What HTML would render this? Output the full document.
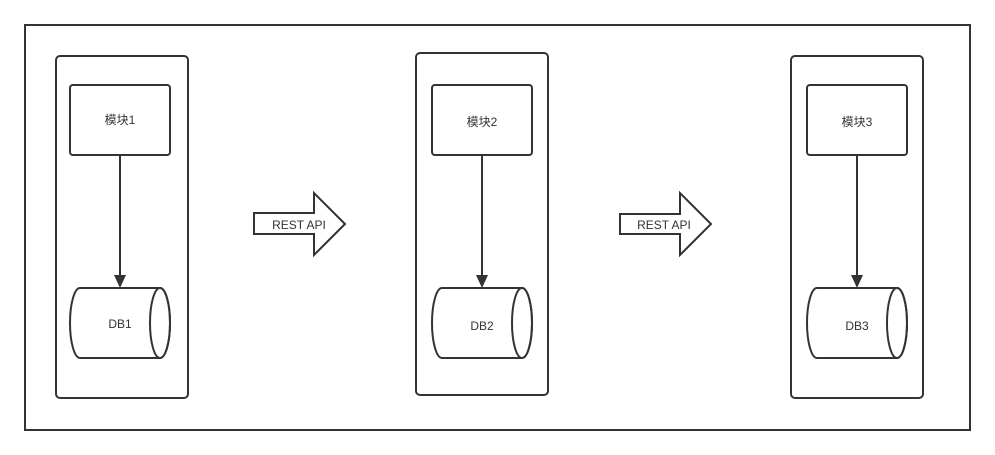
<!DOCTYPE html>
<html><head><meta charset="utf-8"><style>
html,body{margin:0;padding:0;background:#fff;}
svg{display:block;}
text{font-family:"Liberation Sans","Noto Sans CJK SC",sans-serif;font-size:12px;fill:#333;}
</style></head><body>
<svg width="995" height="455" viewBox="0 0 995 455" xmlns="http://www.w3.org/2000/svg">
<g fill="none" stroke="#333" stroke-width="2">
<rect x="25" y="25" width="945" height="405" fill="#fff"/>
<!-- containers -->
<rect x="56" y="56" width="132" height="342" rx="4"/>
<rect x="416" y="53" width="132" height="342" rx="4"/>
<rect x="791" y="56" width="132" height="342" rx="4"/>
<!-- modules -->
<rect x="70" y="85" width="100" height="70" rx="3"/>
<rect x="432" y="85" width="100" height="70" rx="3"/>
<rect x="807" y="85" width="100" height="70" rx="3"/>
<!-- connectors -->
<line x1="120" y1="155" x2="120" y2="276"/>
<line x1="482" y1="155" x2="482" y2="276"/>
<line x1="857" y1="155" x2="857" y2="276"/>
<!-- cylinders -->
<path d="M80,288 L160,288 A10,35 0 0 1 160,358 L80,358 A10,35 0 0 1 80,288 Z"/>
<ellipse cx="160" cy="323" rx="10" ry="35"/>
<path d="M442,288 L522,288 A10,35 0 0 1 522,358 L442,358 A10,35 0 0 1 442,288 Z"/>
<ellipse cx="522" cy="323" rx="10" ry="35"/>
<path d="M817,288 L897,288 A10,35 0 0 1 897,358 L817,358 A10,35 0 0 1 817,288 Z"/>
<ellipse cx="897" cy="323" rx="10" ry="35"/>
<!-- block arrows -->
<path d="M254,213 L314,213 L314,193 L345,224 L314,255 L314,234 L254,234 Z"/>
<path d="M620,214 L680,214 L680,193 L711,224 L680,255 L680,234 L620,234 Z"/>
</g>
<g fill="#333">
<path d="M114,275 L126,275 L120,288 Z"/>
<path d="M476,275 L488,275 L482,288 Z"/>
<path d="M851,275 L863,275 L857,288 Z"/>
</g>
<text x="120" y="124" text-anchor="middle">模块1</text>
<text x="482" y="126" text-anchor="middle">模块2</text>
<text x="857" y="126" text-anchor="middle">模块3</text>
<text x="120" y="328" text-anchor="middle">DB1</text>
<text x="482" y="330" text-anchor="middle">DB2</text>
<text x="857" y="330" text-anchor="middle">DB3</text>
<text x="299" y="229" text-anchor="middle">REST API</text>
<text x="664" y="229" text-anchor="middle">REST API</text>
</svg>
</body></html>
